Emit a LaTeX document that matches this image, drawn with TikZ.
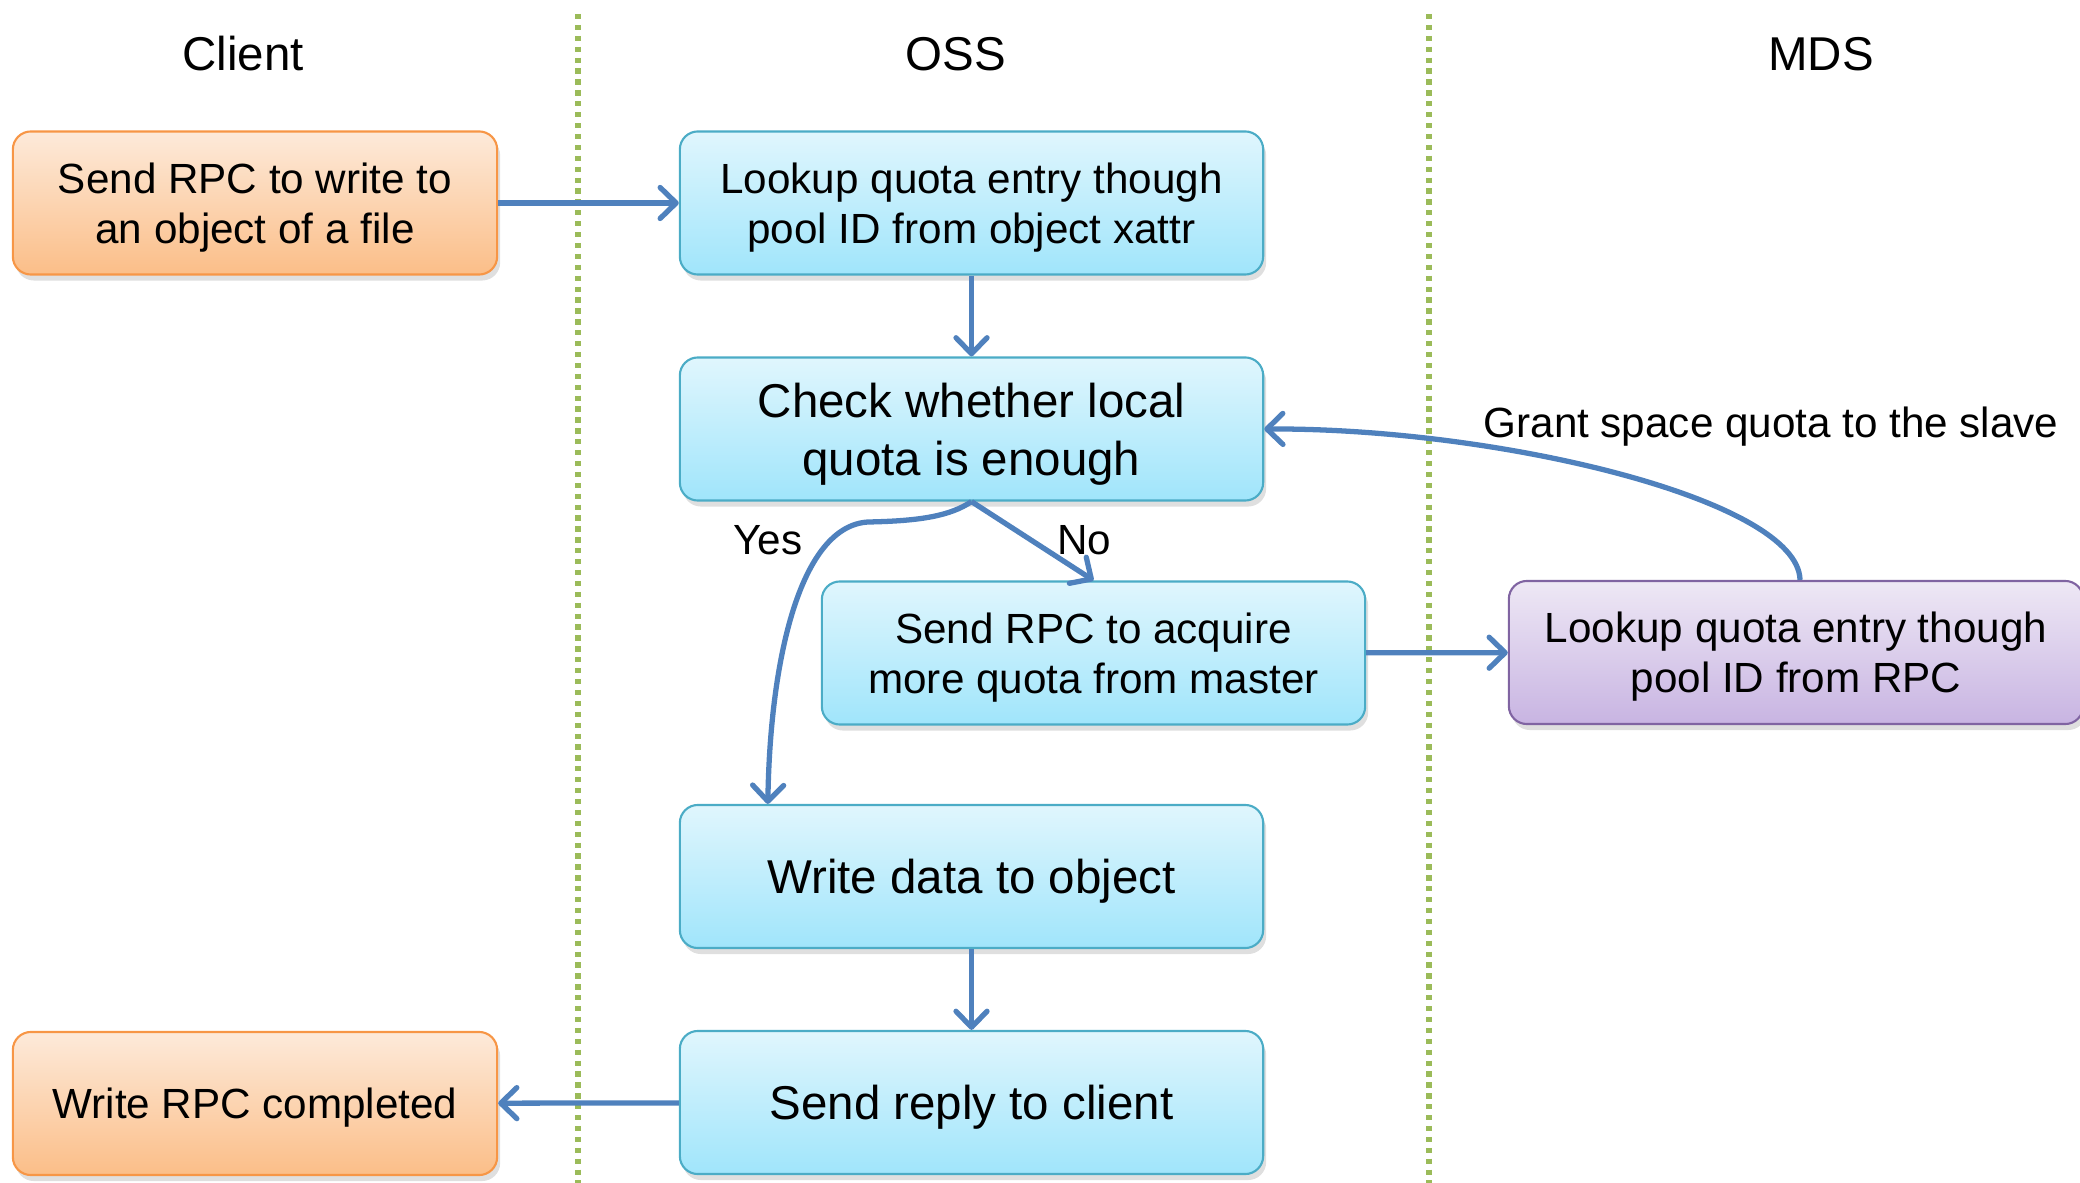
\documentclass[tikz,border=0pt]{standalone}
\usepackage{fontspec}
\setmainfont{Liberation Sans}
\usetikzlibrary{arrows.meta,shadows}
\definecolor{flowblue}{HTML}{4F81BD}
\definecolor{laneline}{HTML}{9BBB59}
\definecolor{clientedge}{HTML}{F79646}
\definecolor{clienttop}{RGB}{253,234,218}
\definecolor{clientbot}{RGB}{251,190,136}
\definecolor{ossedge}{HTML}{4BACC6}
\definecolor{osstop}{RGB}{224,246,253}
\definecolor{ossbot}{RGB}{160,229,251}
\definecolor{mdsedge}{HTML}{8064A2}
\definecolor{mdstop}{RGB}{238,232,245}
\definecolor{mdsbot}{RGB}{200,180,226}

\begin{document}
\begin{tikzpicture}[x=0.01cm,y=-0.01cm,
  box/.style={draw, rounded corners=0.18cm, line width=0.6pt, align=center, inner sep=0pt,
    text depth=0pt, minimum height=1.43cm, font=\fontsize{12}{14.3}\selectfont,
    drop shadow={opacity=0.25, shadow xshift=0.3mm, shadow yshift=-0.6mm}},
  bigtext/.style={font=\fontsize{13.5}{16.6}\selectfont},
  clientbox/.style={box, draw=clientedge, top color=clienttop, bottom color=clientbot, minimum width=4.84cm},
  ossbox/.style={box, draw=ossedge, top color=osstop, bottom color=ossbot, minimum width=5.83cm},
  mdsbox/.style={box, draw=mdsedge, top color=mdstop, bottom color=mdsbot, minimum width=5.74cm},
  flow/.style={draw=flowblue, line width=1.5pt, -{Straight Barb[length=1.6mm,width=3.1mm,round]}},
  lane/.style={draw=laneline, line width=1.5pt, dash pattern=on 1.5pt off 1.6pt}]
\useasboundingbox (0,0) rectangle (2080,1183);

\foreach \x in {578,1429}
  \draw [lane] (\x,14) -- (\x,1183);

\foreach \x/\name in {243/Client,956/OSS,1821/MDS}
  \node [bigtext] at (\x,54) {\name};

\node [clientbox] (send) at (255,203) {Send RPC to write to\\an object of a file};
\node [ossbox] (lookup) at (971.5,203) {Lookup quota entry though\\pool ID from object xattr};
\node [ossbox, bigtext] (check) at (971.5,429) {Check whether local\\quota is enough};
\node [ossbox, minimum width=5.43cm] (acquire) at (1093.5,653) {Send RPC to acquire\\more quota from master};
\node [mdsbox] (mdslookup) at (1796,652.5) {Lookup quota entry though\\pool ID from RPC};
\node [ossbox, bigtext] (write) at (971.5,876.5) {Write data to object};
\node [ossbox, bigtext] (reply) at (971.5,1102.5) {Send reply to client};
\node [clientbox] (done) at (255,1103.5) {Write RPC completed};

\coordinate (bend) at (868,522);
\coordinate (yesend) at ([xshift=0.89cm]write.north west);
\coordinate (grantstart) at ([xshift=0.04cm]mdslookup.north);

\draw [flow] (send) -- (lookup);
\draw [flow] (lookup) -- (check);
\draw [flow] (check.south) -- (acquire.north);
\draw [flow] (check.south) .. controls (950,516) and (920,521) .. (bend)
  .. controls (800,526) and (770,660) .. (yesend);
\draw [flow] (acquire) -- (mdslookup);
\draw [flow] (grantstart) .. controls (1798,500) and (1500,428) .. (check.east);
\draw [flow] (write) -- (reply);
\draw [flow] (reply) -- (done);

\node [font=\fontsize{12}{14.3}\selectfont] (yes) at (768,540) {Yes};
\node [font=\fontsize{12}{14.3}\selectfont] (no) at (1084,540) {No};
\node [font=\fontsize{12}{14.3}\selectfont] (grant) at (1771,427) {Grant space quota to the slave};
\end{tikzpicture}
\end{document}
